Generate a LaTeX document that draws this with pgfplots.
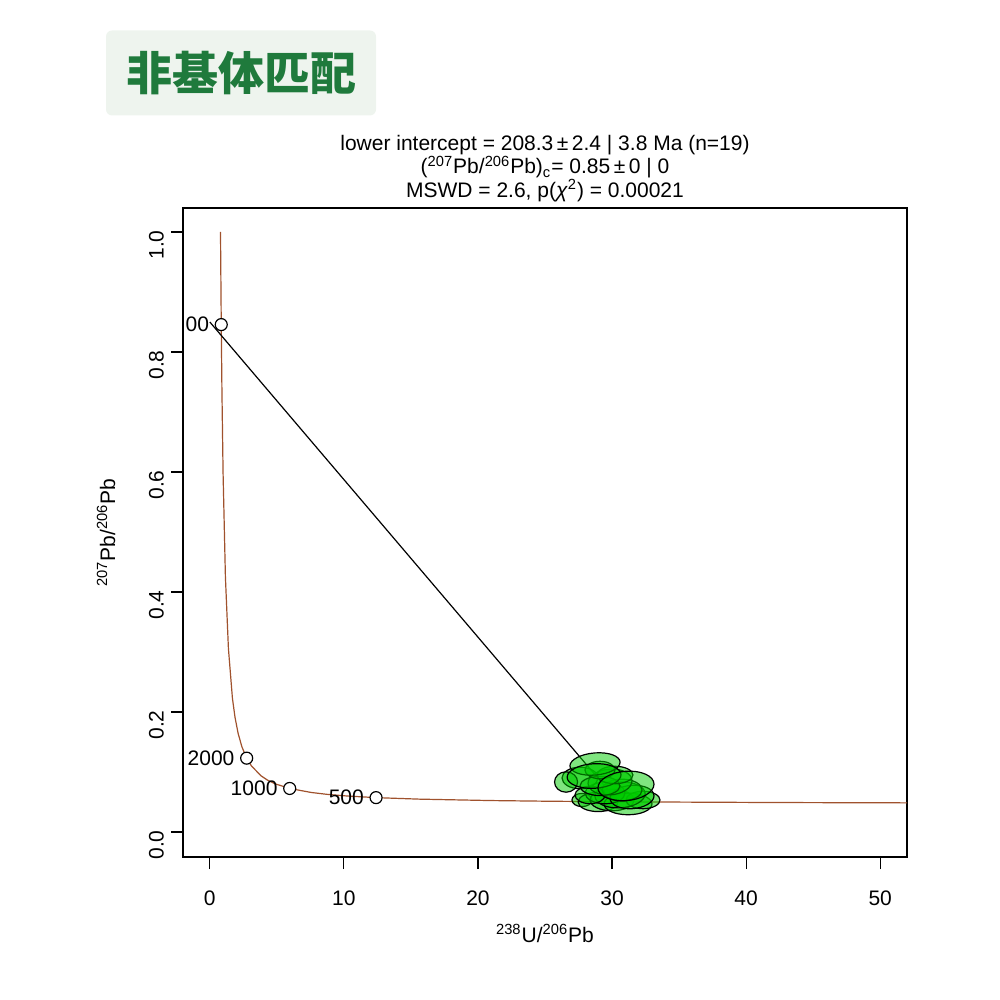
\documentclass[border=0pt]{standalone}
\usepackage{pgfplots}
\pgfplotsset{compat=1.18}
\usepackage{fontspec}
\setmainfont{Liberation Sans}
\newfontfamily\cjk{Noto Sans CJK SC}

\definecolor{concordia}{HTML}{A0522D}
\definecolor{ellgreen}{HTML}{00CC00}
\definecolor{titlegreen}{HTML}{1F7A3C}
\definecolor{boxbg}{HTML}{EEF4EE}

% error ellipse: axis1 = (u,v), axis2 = (0,w), in data units
\pgfdeclareplotmark{errell}{%
  \pgfpathellipse{\pgfpointorigin}%
    {\pgfplotspointaxisdirectionxy{\eu}{\ev}}%
    {\pgfplotspointaxisdirectionxy{0}{\ew}}%
  \pgfusepathqfillstroke}

% concordia (Tera-Wasserburg), 100 Ma .. 5237 Ma
\pgfplotstableread{
x y
63.97 0.04804
53.22 0.04845
42.48 0.04907
31.735 0.05013
25.289 0.05123
20.992 0.05236
15.621 0.05473
12.399 0.05725
10.252 0.05993
8.718 0.06278
7.568 0.06583
5.959 0.07253
4.888 0.08016
4.293 0.08657
3.817 0.09364
3.105 0.11009
2.749 0.12304
2.394 0.14192
2.111 0.16434
1.880 0.19100
1.687 0.22275
1.387 0.30597
1.163 0.42520
0.990 0.59698
0.904 0.73498
0.853 0.84565
0.806 0.97422
0.798 1.0
}\concordia

\pgfplotstableread{
x y lab
12.399 0.05725 500
5.959 0.07253 1000
2.749 0.12304 2000
0.853 0.84565 00
}\ages

\pgfplotstableread{
x y u v w
27.76 0.0533 0.75 0 0.0110
28.96 0.0500 1.49 0 0.0160
30.00 0.0533 1.64 0 0.0180
31.19 0.0467 1.79 0 0.0180
32.31 0.0533 1.27 0 0.0145
30.60 0.0617 1.87 0.002 0.0215
29.48 0.0650 1.49 0 0.0180
31.49 0.0583 1.64 0.002 0.0195
28.36 0.0617 1.12 0 0.0145
30.75 0.0700 1.49 0 0.0180
27.61 0.0900 1.34 0 0.0180
29.85 0.0833 1.64 0.002 0.0215
29.10 0.0767 1.49 0 0.0160
30.22 0.0950 1.34 0 0.0145
29.10 0.1033 1.12 0 0.0145
26.57 0.0833 0.86 0 0.0170
28.73 0.1133 1.87 0.003 0.0185
28.66 0.0933 2.01 0.002 0.0205
31.04 0.0767 2.09 0.003 0.0245
}\ellipses

\begin{document}
\begin{tikzpicture}
\path[use as bounding box] (0,0) rectangle (500pt,500pt);
\node[fill=boxbg, rounded corners=3pt, minimum width=135pt, minimum height=42.5pt,
  text=titlegreen, font=\cjk\bfseries\fontsize{23}{26}\selectfont]
  at (120.5pt,463.5pt) {非基体匹配};
\begin{axis}[
  at={(91.5pt,71.5pt)}, anchor=south west,
  scale only axis, width=362pt, height=324.5pt,
  xmin=-2, xmax=52, ymin=-0.0417, ymax=1.04,
  xtick={0,10,20,30,40,50}, ytick={0,0.2,0.4,0.6,0.8,1},
  tick pos=left, tick align=outside, major tick length=6pt,
  tick style={black, line width=0.6pt},
  axis line style={line width=0.8pt},
  /pgf/number format/assume math mode=true,
  ticklabel style={font=\fontsize{10.5}{12}\selectfont},
  xticklabel style={yshift=-7.5pt},
  yticklabel style={/pgf/number format/fixed, /pgf/number format/fixed zerofill,
    /pgf/number format/precision=1, rotate=90, anchor=south, xshift=-6.5pt},
  xlabel={\textsuperscript{238}U/\textsuperscript{206}Pb},
  ylabel={\textsuperscript{207}Pb/\textsuperscript{206}Pb},
  label style={font=\fontsize{10.5}{12}\selectfont},
  xlabel style={yshift=-2.5pt},
  ylabel style={yshift=10pt},
  title={lower intercept = 208.3\,±\,2.4 | 3.8 Ma (n=19)\\
    (\textsuperscript{207}Pb/\textsuperscript{206}Pb)\textsubscript{c}= 0.85\,±\,0 | 0\\
    MSWD = 2.6, p(\textit{χ}\textsuperscript{2}) = 0.00021},
  title style={align=center, font=\fontsize{10.5}{11.8}\selectfont, yshift=-6.5pt},
]
\addplot[concordia, line width=0.6pt] table {\concordia};
\addplot[black, line width=0.6pt] coordinates {(0,0.85) (30.45,0.0503)};
\addplot[only marks, mark=*, mark size=3pt,
  mark options={fill=white, draw=black, line width=0.6pt},
  point meta=explicit symbolic, nodes near coords,
  every node near coord/.append style={anchor=east, xshift=-2.5pt,
    font=\fontsize{10.5}{12}\selectfont}]
  table[meta=lab] {\ages};
\addplot[scatter, only marks, mark=errell,
  scatter/use mapped color={draw=black, fill=ellgreen},
  mark options={line width=0.6pt, fill opacity=0.5},
  visualization depends on={\thisrow{u}\as\eu},
  visualization depends on={\thisrow{v}\as\ev},
  visualization depends on={\thisrow{w}\as\ew}]
  table {\ellipses};
\end{axis}
\end{tikzpicture}
\end{document}
